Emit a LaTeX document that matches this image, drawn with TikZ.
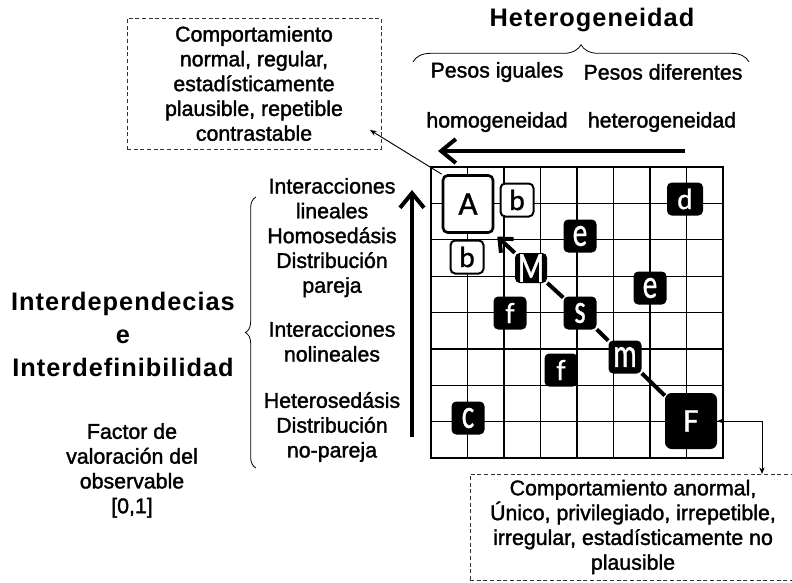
\documentclass[tikz,border=0pt]{standalone}
\usepackage{fontspec}
\usepackage{graphicx}
\setmainfont{Liberation Sans}
\newfontfamily\bodyfont[FakeBold=1.6]{Liberation Sans}
\newfontfamily\letterfont[FakeBold=1]{Carlito}
\newfontfamily\headfont[LetterSpace=4]{Liberation Sans}
\usetikzlibrary{arrows.meta, decorations.pathreplacing}
\newcommand{\xh}[1]{\scalebox{1}[1.4]{#1}}

\begin{document}
\begin{tikzpicture}[x=0.75pt, y=0.75pt,
  txt/.style={align=center, inner sep=0pt, font=\bodyfont\fontsize{16}{18.6}\selectfont},
  headtxt/.style={align=center, inner sep=0pt, font=\headfont\bfseries\fontsize{19}{24.75}\selectfont},
  dashbox/.style={draw=black!80, line width=0.6pt, dash pattern=on 3pt off 2pt,
    align=center, inner sep=0pt, font=\bodyfont\fontsize{16}{18.6}\selectfont},
  wbox/.style={draw, fill=white, line width=1.5pt, rounded corners=3.5pt, inner sep=0pt,
    minimum width=24.75pt, minimum height=24.75pt, font=\letterfont\fontsize{22}{22}\selectfont},
  kbox/.style={fill=black, text=white, rounded corners=3.5pt, inner sep=0pt,
    minimum width=24.75pt, minimum height=24.75pt, font=\letterfont\fontsize{22}{22}\selectfont},
  gridline/.style={line width=0.8pt},
  link/.style={line width=3pt},
  bigarr/.style={line width=3pt, -{Straight Barb[length=11pt, width=18pt]}},
  thinarr/.style={line width=0.7pt, -{Stealth[length=5pt, width=4pt]}},
  brc/.style={decorate, decoration={brace, amplitude=#1}, line width=0.6pt}
]
\useasboundingbox (0,0) rectangle (792,-582);

% grid
\draw[gridline] \foreach \i in {1,...,7} {({431+36.5*\i},-167) -- ++(0,-291) (431,{-167-36.4*\i}) -- ++(292,0)};
\draw[line width=1.5pt] (431,-167) rectangle (723,-458);

% top labels
\node[headtxt] (title) at (592,-20) {Heterogeneidad};
\node[txt] (iguales) at (497,-72) {Pesos iguales};
\node[txt] (diferentes) at (663,-72) {Pesos diferentes};
\node[txt] (homo) at (497,-122) {homogeneidad};
\node[txt] (hetero) at (662,-122) {heterogeneidad};
\draw[brc=13pt] (413,-62) -- (749,-62);

% left labels
\node[headtxt] (inter) at (123,-334) {Interdependecias\\e\\Interdefinibilidad};
\node[txt] (factor) at (132,-470.5) {Factor de\\valoración del\\observable\\{[0,1]}};
\node[txt] (lineal) at (332,-237.6) {Interacciones\\lineales\\Homosedásis\\Distribución\\pareja};
\node[txt] (nolineal) at (332,-341.5) {Interacciones\\nolineales};
\node[txt] (heterosed) at (332,-427) {Heterosedásis\\Distribución\\no-pareja};
\draw[brc=8pt] (256,-468) -- (256,-197);

% axis arrows
\coordinate (hstart) at (685,-151);
\coordinate (hend) at (438,-151);
\coordinate (vstart) at (412,-437);
\coordinate (vend) at (412,-190);
\draw[bigarr] (hstart) -- (hend);
\draw[bigarr] (vstart) -- (vend);

% cells
\node[wbox, minimum width=37.5pt, minimum height=42.75pt, line width=2pt,
  font=\letterfont\fontsize{25}{25}\selectfont] (nA) at (468,-204) {A};
\node[wbox] (nb1) at (517,-200) {b};
\node[wbox] (nb2) at (467,-257) {b};
\node[kbox, minimum width=24pt, minimum height=22.5pt,
  font=\letterfont\fontsize{23}{23}\selectfont] (nM) at (531,-268) {\xh{M}};
\node[kbox] (ne1) at (580,-236) {\xh{e}};
\node[kbox, minimum width=27pt] (nd) at (685,-199) {d};
\node[kbox] (ne2) at (650,-288) {\xh{e}};
\node[kbox] (nf1) at (510,-313) {f};
\node[kbox] (ns) at (580,-313) {\xh{s}};
\node[kbox] (nf2) at (561,-370) {f};
\node[kbox] (nm) at (625,-357) {\xh{m}};
\node[kbox] (nc) at (468,-418) {\xh{c}};
\node[kbox, minimum width=39pt, minimum height=42pt, rounded corners=5pt,
  font=\letterfont\fontsize{25}{25}\selectfont] (nF) at (691,-421) {F};

\draw[link] (nF) -- (nm);
\draw[link] (nm) -- (ns);
\draw[link] (ns) -- (nM);
\draw[bigarr, -{Straight Barb[length=8pt, width=14pt]}, shorten >=3pt] (nM) -- (nA.south east);

% notes
\node[dashbox, minimum width=190.5pt, minimum height=98.25pt] (normal) at (254,-83.5)
  {Comportamiento\\normal, regular,\\estadísticamente\\plausible, repetible\\contrastable};
\node[dashbox, minimum width=244.5pt, minimum height=79.5pt] (anormal) at (633,-527)
  {Comportamiento anormal,\\Único, privilegiado, irrepetible,\\irregular, estadísticamente no\\plausible};
\coordinate (normtip) at (370,-130);
\coordinate (anomtip) at (762,-474);
\draw[thinarr] (nA.north west) -- (normtip);
\draw[thinarr, {Stealth[length=5pt, width=4pt]}-{Stealth[length=5pt, width=4pt]}] (nF.east) -| (anomtip);
\end{tikzpicture}
\end{document}
